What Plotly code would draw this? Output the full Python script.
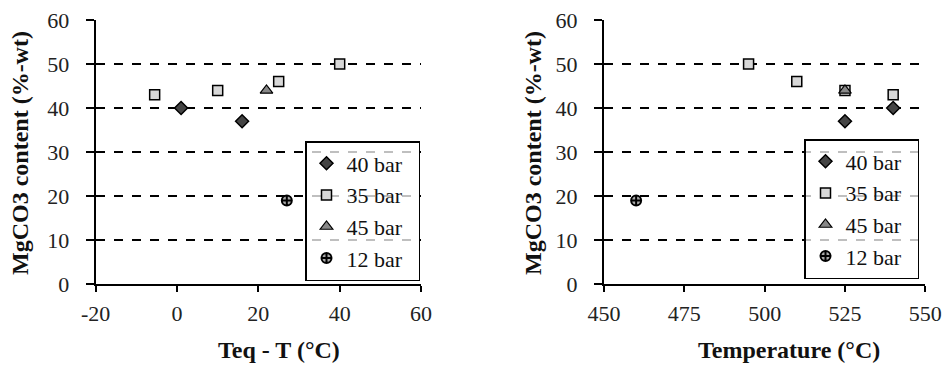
import plotly.graph_objects as go

# data
series_names = ["40 bar", "35 bar", "45 bar", "12 bar"]
dT_40 = [1, 16]
y_40 = [40, 37]
dT_35 = [-5.5, 10, 25, 40]
y_35 = [43, 44, 46, 50]
dT_45 = [22]
y_45 = [44]
dT_12 = [27]
y_12 = [19]

T_40 = [540, 525]
T_35 = [540, 525, 510, 495]
T_45 = [525]
T_12 = [460]

x1_ticks = [-20, 0, 20, 40, 60]
x1_labels = ["-20", "0", "20", "40", "60"]
x2_ticks = [450, 475, 500, 525, 550]
y_ticks = [0, 10, 20, 30, 40, 50, 60]

FONT = "Liberation Serif"

styles = [
    dict(symbol="diamond", size=10, color="#444444", line=dict(color="black", width=1.5)),
    dict(symbol="square", size=10, color="#d8d8d8", line=dict(color="black", width=1.5)),
    dict(symbol="triangle-up", size=11, color="#888888", line=dict(color="black", width=1.2)),
    dict(symbol="circle-cross", size=10, color="#aaaaaa", line=dict(color="black", width=2)),
]

PAD = "\u00a0\u00a0"  # right padding inside legend box

fig = go.Figure()
left = [(dT_40, y_40), (dT_35, y_35), (dT_45, y_45), (dT_12, y_12)]
right = [(T_40, y_40), (T_35, y_35), (T_45, y_45), (T_12, y_12)]
for name, (xs, ys), st in zip(series_names, left, styles):
    fig.add_trace(go.Scatter(x=xs, y=ys, mode="markers", name=name + PAD, marker=st,
                             xaxis="x", yaxis="y", legend="legend"))
for name, (xs, ys), st in zip(series_names, right, styles):
    fig.add_trace(go.Scatter(x=xs, y=ys, mode="markers", name=name + PAD, marker=st,
                             xaxis="x2", yaxis="y2", legend="legend2"))

W, H = 945, 368
ydom = [1 - 284 / H, 1 - 20 / H]

tick_font = dict(family=FONT, size=22, color="#222")
common_x = dict(showline=True, linecolor="black", linewidth=2, ticks="outside", ticklen=6,
                tickwidth=1.5, tickcolor="black", showgrid=False, zeroline=False, automargin=False,
                tickfont=tick_font, ticklabelstandoff=3)
common_y = dict(showline=True, linecolor="black", linewidth=2, ticks="outside", ticklen=8,
                tickwidth=1.5, tickcolor="black", showgrid=True, gridcolor="black",
                griddash="dash", gridwidth=1.5, zeroline=False, range=[0, 60], automargin=False,
                tickvals=y_ticks, tickfont=tick_font, ticklabelstandoff=12, domain=ydom)

legend_common = dict(bgcolor="rgba(255,255,255,0.75)", bordercolor="black", borderwidth=1.5,
                     font=dict(family=FONT, size=22, color="#111"), xanchor="left", yanchor="top",
                     itemwidth=30, tracegroupgap=0)

fig.update_layout(
    width=W, height=H, margin=dict(l=0, r=0, t=0, b=0, autoexpand=False),
    paper_bgcolor="white", plot_bgcolor="white",
    font=dict(family=FONT, color="#111"),
    xaxis=dict(domain=[95.7 / W, 421 / W], range=[-20, 60], tickvals=x1_ticks, ticktext=x1_labels,
               anchor="y", **common_x),
    yaxis=dict(anchor="x", **common_y),
    xaxis2=dict(domain=[604 / W, 925.3 / W], range=[450, 550], tickvals=x2_ticks, anchor="y2", **common_x),
    yaxis2=dict(anchor="x2", **common_y),
    legend=dict(x=305 / W, y=1 - 141 / H, **legend_common),
    legend2=dict(x=804 / W, y=1 - 139 / H, **legend_common),
    showlegend=True,
)

title_font = dict(family=FONT, size=24, color="#111", weight="bold")
fig.add_annotation(text="Teq - T (°C)", xref="paper", yref="paper", x=279 / W, y=1 - 350 / H,
                   showarrow=False, font=title_font, xanchor="center", yanchor="middle")
fig.add_annotation(text="Temperature (°C)", xref="paper", yref="paper", x=789 / W, y=1 - 350 / H,
                   showarrow=False, font=title_font, xanchor="center", yanchor="middle")
fig.add_annotation(text="MgCO3 content (%-wt)", xref="paper", yref="paper", x=20 / W, y=1 - 153 / H,
                   showarrow=False, font=title_font, textangle=-90, xanchor="center", yanchor="middle")
fig.add_annotation(text="MgCO3 content (%-wt)", xref="paper", yref="paper", x=533 / W, y=1 - 153 / H,
                   showarrow=False, font=title_font, textangle=-90, xanchor="center", yanchor="middle")

fig.write_html("out.html")
